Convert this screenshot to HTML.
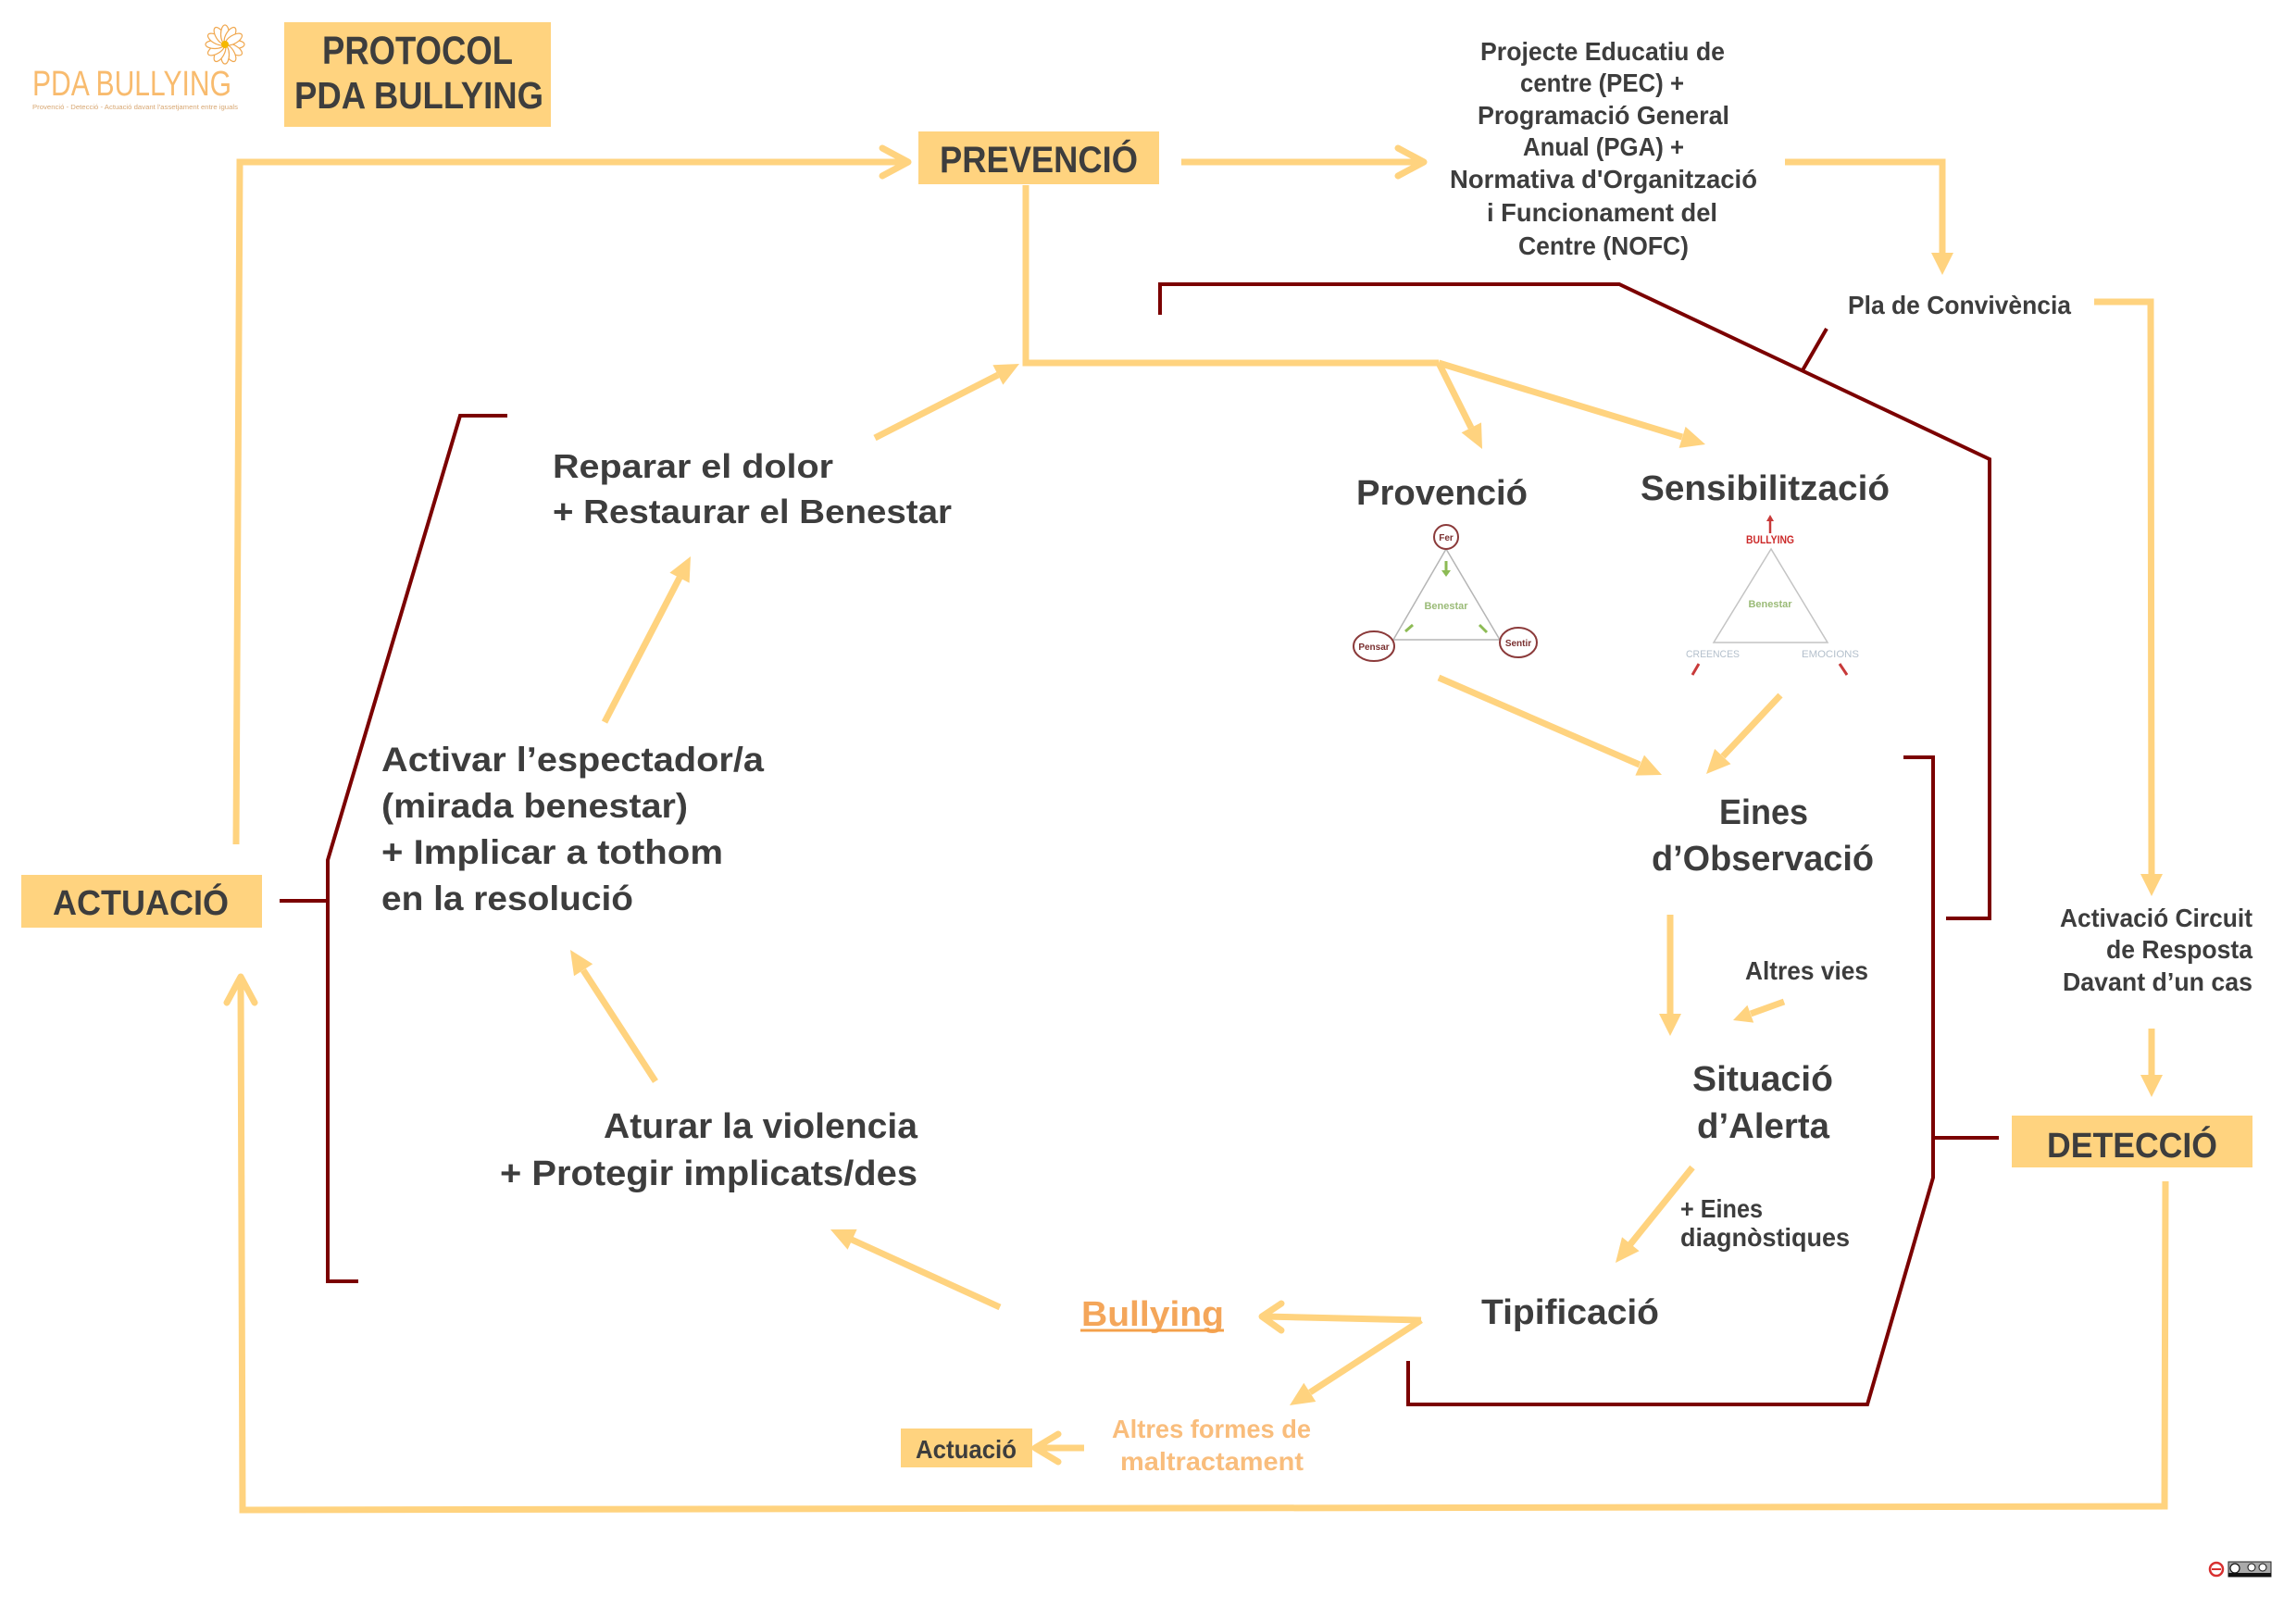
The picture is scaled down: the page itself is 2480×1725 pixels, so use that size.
<!DOCTYPE html>
<html><head><meta charset="utf-8"><style>
html,body{margin:0;padding:0;background:#fff;}
svg{display:block;}
text{font-family:"Liberation Sans",sans-serif;}
.t{font-weight:bold;fill:#3d3d3d;}
.y{stroke:#FFD37F;stroke-width:7;fill:none;stroke-linejoin:miter;}
.yc{stroke:#FFD37F;stroke-width:7;fill:none;stroke-linecap:round;stroke-linejoin:round;}
.h{fill:#FFD37F;}
.r{stroke:#7B0000;stroke-width:4;fill:none;}
</style></head><body>
<svg width="2480" height="1725" viewBox="0 0 2480 1725" xmlns="http://www.w3.org/2000/svg">
<rect width="2480" height="1725" fill="#fff"/>

<!-- Logo -->
<g transform="translate(243,48)" stroke="#f0a850" stroke-width="1.2" fill="#fff">
  <ellipse cx="11" cy="0" rx="10" ry="4.5" transform="rotate(0)"/>
  <ellipse cx="11" cy="0" rx="10" ry="4.5" transform="rotate(30)"/>
  <ellipse cx="11" cy="0" rx="10" ry="4.5" transform="rotate(60)"/>
  <ellipse cx="11" cy="0" rx="10" ry="4.5" transform="rotate(90)"/>
  <ellipse cx="11" cy="0" rx="10" ry="4.5" transform="rotate(120)"/>
  <ellipse cx="11" cy="0" rx="10" ry="4.5" transform="rotate(150)"/>
  <ellipse cx="11" cy="0" rx="10" ry="4.5" transform="rotate(180)"/>
  <ellipse cx="11" cy="0" rx="10" ry="4.5" transform="rotate(210)"/>
  <ellipse cx="11" cy="0" rx="10" ry="4.5" transform="rotate(240)"/>
  <ellipse cx="11" cy="0" rx="10" ry="4.5" transform="rotate(270)"/>
  <ellipse cx="11" cy="0" rx="10" ry="4.5" transform="rotate(300)"/>
  <ellipse cx="11" cy="0" rx="10" ry="4.5" transform="rotate(330)"/>
  <circle r="4" fill="#f5b800" stroke="none"/>
</g>
<text x="35" y="103" font-size="38" fill="#f8bb6e" textLength="215" lengthAdjust="spacingAndGlyphs">PDA BULLYING</text>
<text x="35" y="118" font-size="7" fill="#d8a874" textLength="222" lengthAdjust="spacingAndGlyphs">Provenció - Detecció - Actuació davant l'assetjament entre iguals</text>

<!-- PROTOCOL box -->
<rect x="307" y="24" width="288" height="113" class="h"/>
<text class="t" x="348" y="69" font-size="43" textLength="206" lengthAdjust="spacingAndGlyphs">PROTOCOL</text>
<text class="t" x="318" y="117" font-size="41" textLength="269" lengthAdjust="spacingAndGlyphs">PDA BULLYING</text>

<!-- PREVENCIÓ box -->
<rect x="992" y="142" width="260" height="57" class="h"/>
<text class="t" x="1015" y="186" font-size="40" textLength="214" lengthAdjust="spacingAndGlyphs">PREVENCIÓ</text>

<!-- Yellow connectors -->
<polyline class="y" points="255,912 259,175 978,175"/>
<polyline class="yc" points="953,160 981,175 953,190"/>
<line class="y" x1="1276" y1="175" x2="1535" y2="175"/>
<polyline class="yc" points="1510,160 1538,175 1510,190"/>
<polyline class="y" points="1928,175 2098,175 2098,274"/>
<polygon class="h" points="2098,297 2086,273 2110,273"/>
<polyline class="y" points="2262,326 2323,326 2324,945"/>
<polygon class="h" points="2324,968 2312,944 2336,944"/>
<line class="y" x1="2324" y1="1111" x2="2324" y2="1162"/>
<polygon class="h" points="2324,1185 2312,1161 2336,1161"/>
<polyline class="y" points="2339,1276 2338,1627 262,1631 260,1058"/>
<polyline class="yc" points="245,1083 260,1055 275,1083"/>

<polyline class="y" points="1108,200 1108,392 1554,392"/>
<line class="y" x1="1554" y1="392" x2="1817" y2="472"/>
<polygon class="h" points="1842,480 1813.6,483.9 1820.6,460.9"/>
<line class="y" x1="1554" y1="392" x2="1589" y2="462"/>
<polygon class="h" points="1601,485 1578.6,467.2 1600,456.4"/>

<line class="y" x1="945" y1="473" x2="1078" y2="405"/>
<polygon class="h" points="1101,393 1083.4,415.6 1072.4,394.2"/>

<line class="y" x1="1554" y1="732" x2="1771" y2="826"/>
<polygon class="h" points="1795,837 1766.4,837.6 1776,815.6"/>
<line class="y" x1="1923" y1="751" x2="1861" y2="817"/>
<polygon class="h" points="1843,836 1852.1,808.9 1869.5,825.3"/>

<line class="y" x1="1804" y1="988" x2="1804" y2="1096"/>
<polygon class="h" points="1804,1119 1792,1095 1816,1095"/>
<line class="y" x1="1927" y1="1082" x2="1891" y2="1095"/>
<polygon class="h" points="1872,1102 1887.4,1085.8 1894.2,1104.6"/>
<line class="y" x1="1828" y1="1261" x2="1761" y2="1344"/>
<polygon class="h" points="1745,1364 1752,1336.2 1770.6,1351.2"/>

<line class="y" x1="1535" y1="1426" x2="1366" y2="1422"/>
<polyline class="yc" points="1384,1408 1363,1422 1384,1437"/>
<line class="y" x1="1535" y1="1426" x2="1415" y2="1504"/>
<polygon class="h" points="1393,1518 1408.3,1493.8 1421.3,1514"/>
<line class="y" x1="1171" y1="1564" x2="1120" y2="1564"/>
<polyline class="yc" points="1143,1549 1118,1564 1143,1579"/>

<line class="y" x1="1080" y1="1412" x2="920" y2="1339"/>
<polygon class="h" points="897,1328 925.6,1327.9 915.6,1349.7"/>
<line class="y" x1="708" y1="1168" x2="630" y2="1048"/>
<polygon class="h" points="616,1026 640.2,1041.3 620,1054.3"/>
<line class="y" x1="653" y1="780" x2="734" y2="624"/>
<polygon class="h" points="746,601 744.6,629.6 723.4,618.6"/>

<!-- Dark red brackets -->
<polyline class="r" points="548,449 497,449 354,929 354,1384 387,1384"/>
<line class="r" x1="302" y1="973" x2="354" y2="973"/>
<polyline class="r" points="1253,340 1253,307 1749,307 2149,496 2149,992 2102,992"/>
<line class="r" x1="1973" y1="355" x2="1947" y2="400"/>
<polyline class="r" points="2056,818 2088,818 2088,1272 2017,1517 1521,1517 1521,1470"/>
<line class="r" x1="2088" y1="1229" x2="2159" y2="1229"/>

<!-- Top right text block -->
<g class="t" font-size="28">
<text x="1599" y="65" textLength="264" lengthAdjust="spacingAndGlyphs">Projecte Educatiu de</text>
<text x="1642" y="99" textLength="177" lengthAdjust="spacingAndGlyphs">centre (PEC) +</text>
<text x="1596" y="134" textLength="272" lengthAdjust="spacingAndGlyphs">Programació General</text>
<text x="1645" y="168" textLength="174" lengthAdjust="spacingAndGlyphs">Anual (PGA) +</text>
<text x="1566" y="203" textLength="332" lengthAdjust="spacingAndGlyphs">Normativa d'Organització</text>
<text x="1606" y="239" textLength="249" lengthAdjust="spacingAndGlyphs">i Funcionament del</text>
<text x="1640" y="275" textLength="184" lengthAdjust="spacingAndGlyphs">Centre (NOFC)</text>
<text x="1996" y="339" textLength="241" lengthAdjust="spacingAndGlyphs">Pla de Convivència</text>
<text x="1885" y="1058" textLength="133" lengthAdjust="spacingAndGlyphs">Altres vies</text>
<text x="1815" y="1315" textLength="89" lengthAdjust="spacingAndGlyphs">+ Eines</text>
<text x="1815" y="1346" textLength="183" lengthAdjust="spacingAndGlyphs">diagnòstiques</text>
<text x="2225" y="1001" textLength="208" lengthAdjust="spacingAndGlyphs">Activació Circuit</text>
<text x="2275" y="1035" textLength="158" lengthAdjust="spacingAndGlyphs">de Resposta</text>
<text x="2228" y="1070" textLength="205" lengthAdjust="spacingAndGlyphs">Davant d’un cas</text>
</g>

<!-- Main labels -->
<g class="t" font-size="38">
<text x="1465" y="545" textLength="185" lengthAdjust="spacingAndGlyphs">Provenció</text>
<text x="1772" y="540" textLength="269" lengthAdjust="spacingAndGlyphs">Sensibilització</text>
<text x="1857" y="890" textLength="96" lengthAdjust="spacingAndGlyphs">Eines</text>
<text x="1784" y="940" textLength="240" lengthAdjust="spacingAndGlyphs">d’Observació</text>
<text x="1828" y="1178" textLength="152" lengthAdjust="spacingAndGlyphs">Situació</text>
<text x="1833" y="1229" textLength="143" lengthAdjust="spacingAndGlyphs">d’Alerta</text>
<text x="1600" y="1430" textLength="192" lengthAdjust="spacingAndGlyphs">Tipificació</text>
<text x="597" y="516" font-size="36" textLength="303" lengthAdjust="spacingAndGlyphs">Reparar el dolor</text>
<text x="597" y="565" font-size="36" textLength="431" lengthAdjust="spacingAndGlyphs">+ Restaurar el Benestar</text>
<text x="412" y="833" font-size="37" textLength="413" lengthAdjust="spacingAndGlyphs">Activar l’espectador/a</text>
<text x="412" y="883" font-size="37" textLength="331" lengthAdjust="spacingAndGlyphs">(mirada benestar)</text>
<text x="412" y="933" font-size="37" textLength="369" lengthAdjust="spacingAndGlyphs">+ Implicar a tothom</text>
<text x="412" y="983" font-size="37" textLength="272" lengthAdjust="spacingAndGlyphs">en la resolució</text>
<text x="652" y="1229" textLength="339" lengthAdjust="spacingAndGlyphs">Aturar la violencia</text>
<text x="540" y="1280" textLength="451" lengthAdjust="spacingAndGlyphs">+ Protegir implicats/des</text>
</g>

<!-- ACTUACIÓ box -->
<rect x="23" y="945" width="260" height="57" class="h"/>
<text class="t" x="57" y="988" font-size="38" textLength="190" lengthAdjust="spacingAndGlyphs">ACTUACIÓ</text>

<!-- DETECCIÓ box -->
<rect x="2173" y="1205" width="260" height="56" class="h"/>
<text class="t" x="2211" y="1250" font-size="38" textLength="184" lengthAdjust="spacingAndGlyphs">DETECCIÓ</text>

<!-- Bullying / Altres / Actuació -->
<text x="1168" y="1432" font-size="38" font-weight="bold" fill="#f4a65a" textLength="154" lengthAdjust="spacingAndGlyphs">Bullying</text>
<line x1="1167" y1="1437" x2="1322" y2="1437" stroke="#f4a04a" stroke-width="3"/>
<text x="1201" y="1553" font-size="28" font-weight="bold" fill="#f9bd7c" textLength="215" lengthAdjust="spacingAndGlyphs">Altres formes de</text>
<text x="1210" y="1588" font-size="28" font-weight="bold" fill="#f9bd7c" textLength="198" lengthAdjust="spacingAndGlyphs">maltractament</text>
<rect x="973" y="1543" width="142" height="42" class="h"/>
<text class="t" x="989" y="1575" font-size="28" textLength="109" lengthAdjust="spacingAndGlyphs">Actuació</text>

<!-- Triangle 1 (Fer / Pensar / Sentir) -->
<g>
  <polygon points="1562,593 1505,691 1620,691" fill="none" stroke="#b5b5b5" stroke-width="1.5"/>
  <circle cx="1562" cy="580" r="13" fill="#fff" stroke="#8b3a3a" stroke-width="2"/>
  <ellipse cx="1484" cy="698" rx="22" ry="16" fill="#fff" stroke="#8b3a3a" stroke-width="2"/>
  <ellipse cx="1640" cy="694" rx="20" ry="16" fill="#fff" stroke="#8b3a3a" stroke-width="2"/>
  <text x="1562" y="584" font-size="10" font-weight="bold" fill="#7a3030" text-anchor="middle">Fer</text>
  <text x="1484" y="702" font-size="10" font-weight="bold" fill="#7a3030" text-anchor="middle">Pensar</text>
  <text x="1640" y="698" font-size="10" font-weight="bold" fill="#7a3030" text-anchor="middle">Sentir</text>
  <text x="1562" y="658" font-size="11" font-weight="bold" fill="#9bbb78" text-anchor="middle">Benestar</text>
  <line x1="1562" y1="606" x2="1562" y2="617" stroke="#8dbb55" stroke-width="3"/>
  <polygon points="1557,616 1567,616 1562,623" fill="#8dbb55"/>
  <line x1="1518" y1="682" x2="1526" y2="675" stroke="#8dbb55" stroke-width="3"/>
  <line x1="1606" y1="683" x2="1598" y2="675" stroke="#8dbb55" stroke-width="3"/>
</g>

<!-- Triangle 2 (BULLYING / CREENCES / EMOCIONS) -->
<g>
  <polygon points="1913,593 1851,694 1974,694" fill="none" stroke="#c4c4c4" stroke-width="1.5"/>
  <line x1="1912" y1="576" x2="1912" y2="562" stroke="#c83a3a" stroke-width="2.5"/>
  <polygon points="1908,563 1916,563 1912,556" fill="#c83a3a"/>
  <text x="1886" y="587" font-size="12" font-weight="bold" fill="#cc2a2a" textLength="52" lengthAdjust="spacingAndGlyphs">BULLYING</text>
  <text x="1912" y="656" font-size="11" font-weight="bold" fill="#9bbb78" text-anchor="middle">Benestar</text>
  <text x="1821" y="710" font-size="11" fill="#b4c0cc" textLength="58" lengthAdjust="spacingAndGlyphs">CREENCES</text>
  <text x="1946" y="710" font-size="11" fill="#b4c0cc" textLength="62" lengthAdjust="spacingAndGlyphs">EMOCIONS</text>
  <line x1="1835" y1="717" x2="1828" y2="729" stroke="#c83a3a" stroke-width="3"/>
  <line x1="1987" y1="717" x2="1995" y2="729" stroke="#c83a3a" stroke-width="3"/>
</g>

<!-- CC icons -->
<circle cx="2394" cy="1695" r="7" fill="none" stroke="#d83030" stroke-width="2.5"/>
<line x1="2389" y1="1695" x2="2399" y2="1695" stroke="#d83030" stroke-width="2"/>
<rect x="2407" y="1687" width="46" height="16" fill="#aaa" stroke="#222" stroke-width="1"/>
<rect x="2407" y="1699" width="46" height="4" fill="#111"/>
<circle cx="2414" cy="1694" r="5" fill="#fff" stroke="#111" stroke-width="1.2"/>
<circle cx="2432" cy="1693" r="4" fill="#fff" stroke="#111" stroke-width="1"/>
<circle cx="2444" cy="1693" r="4" fill="#fff" stroke="#111" stroke-width="1"/>
</svg>
</body></html>
